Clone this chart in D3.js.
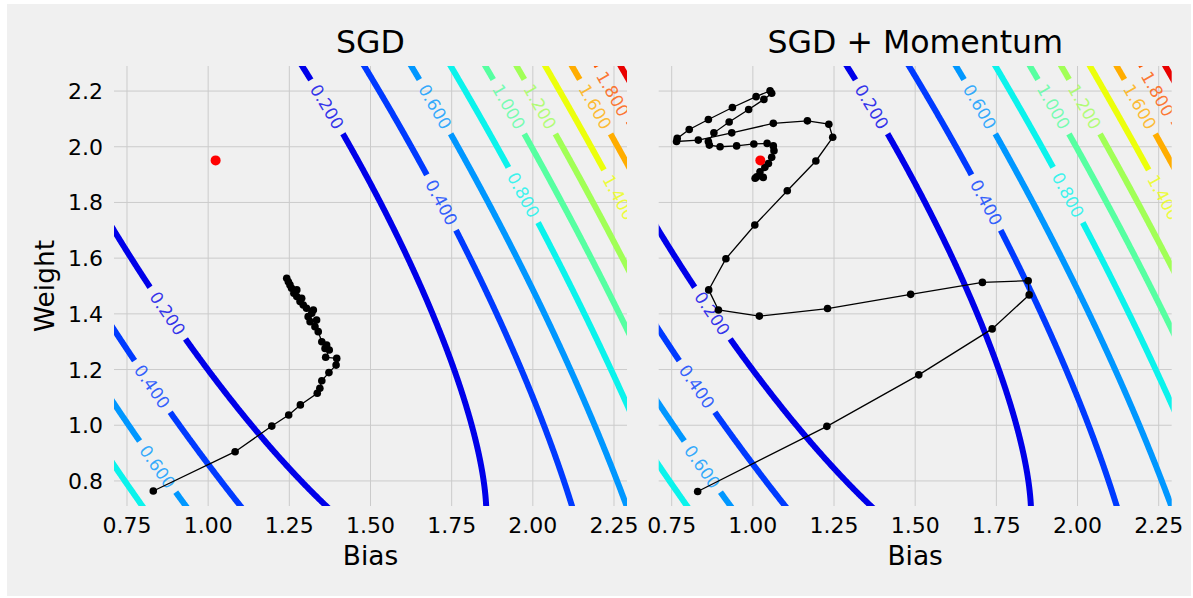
<!DOCTYPE html>
<html>
<head>
<meta charset="utf-8">
<script src="https://cdn.jsdelivr.net/npm/d3@7"></script>
<style>
  html, body { margin: 0; padding: 0; background: #fff; }
  svg { display: block; font-family: "DejaVu Sans", sans-serif; }
</style>
</head>
<body>
<svg id="chart" width="1193" height="598"></svg>
<script>
/* Loss surface of the regression (bias vs weight) with the SGD and
   SGD + Momentum training paths drawn on top. */

const biasTicks = [0.75, 1.00, 1.25, 1.50, 1.75, 2.00, 2.25];
const weightTicks = [0.8, 1.0, 1.2, 1.4, 1.6, 1.8, 2.0, 2.2];
const axisDomain = [0.71, 2.29];

const contourLevels = [0.2, 0.4, 0.6, 0.8, 1.0, 1.2, 1.4, 1.6, 1.8, 2.0];
const colorDomain = [0, 2.2];

/* MSE is quadratic in (b, w):
   lossMin + a*db^2 + ab*db*dw + c*dw^2 around the minimum. */
const lossCenter = [1.023, 1.951];
const lossCoefs = [1.0, 0.946, 0.309];
const lossMin = 0.008;

/* [level, bias, weight] where each contour label sits */
const labelSpots = [
  [0.2, 1.375, 2.144], [0.2, 0.882, 1.402],
  [0.4, 1.700, 1.800], [0.4, 0.836, 1.139],
  [0.6, 1.709, 2.144], [0.6, 0.846, 0.851],
  [0.8, 1.990, 1.827],
  [1.0, 1.935, 2.144],
  [1.2, 2.032, 2.144],
  [1.4, 2.266, 1.818],
  [1.6, 2.196, 2.144],
  [1.8, 2.263, 2.190]
];

const sgdBias = [0.831, 1.083, 1.196, 1.248, 1.284, 1.336, 1.344, 1.350, 1.372, 1.394,
  1.396, 1.362, 1.373, 1.360, 1.365, 1.350, 1.339, 1.329, 1.334, 1.314, 1.308, 1.324,
  1.319, 1.303, 1.293, 1.288, 1.283, 1.273, 1.264, 1.273, 1.257, 1.252, 1.247, 1.242];
const sgdWeight = [0.764, 0.905, 0.997, 1.037, 1.073, 1.115, 1.133, 1.160, 1.189, 1.216,
  1.240, 1.244, 1.270, 1.276, 1.288, 1.300, 1.336, 1.354, 1.378, 1.372, 1.390, 1.414,
  1.402, 1.420, 1.432, 1.456, 1.444, 1.462, 1.474, 1.486, 1.492, 1.504, 1.515, 1.528];

const momentumBias = [0.830, 1.228, 1.511, 1.737, 1.851, 1.848, 1.707, 1.486, 1.230, 1.020,
  0.894, 0.864, 0.917, 1.006, 1.106, 1.194, 1.246, 1.234, 1.168, 1.063, 0.935, 0.832,
  0.765, 0.767, 0.804, 0.863, 0.937, 1.010, 1.053, 1.058, 1.034, 0.987, 0.927, 0.880,
  0.863, 0.866, 0.899, 0.950, 1.003, 1.044, 1.063, 1.065, 1.058, 1.048, 1.037, 1.022,
  1.012, 1.032, 1.007];
const momentumWeight = [0.762, 0.996, 1.181, 1.346, 1.468, 1.519, 1.513, 1.470, 1.419, 1.392,
  1.414, 1.486, 1.598, 1.719, 1.842, 1.949, 2.034, 2.081, 2.093, 2.084, 2.050, 2.024,
  2.019, 2.030, 2.062, 2.098, 2.141, 2.180, 2.201, 2.192, 2.170, 2.134, 2.089, 2.050,
  2.019, 2.006, 2.000, 2.003, 2.010, 2.012, 2.003, 1.986, 1.962, 1.940, 1.926, 1.910,
  1.892, 1.890, 1.887];

/* ---------- LAYOUT ---------- */

const W = 1193, H = 598;
const plotTop = 66, plotBottom = 506, plotWidth = 513;
const panels = [
  { title: "SGD", left: 114, bias: sgdBias, weight: sgdWeight, showY: true },
  { title: "SGD + Momentum", left: 658.7, bias: momentumBias, weight: momentumWeight, showY: false }
];

/* ---------- COLOURS (matplotlib jet) ---------- */

const jetRed   = d3.scaleLinear().domain([0, 0.35, 0.66, 0.89, 1]).range([0, 0, 1, 1, 0.5]).clamp(true);
const jetGreen = d3.scaleLinear().domain([0, 0.125, 0.375, 0.64, 0.91, 1]).range([0, 0, 1, 1, 0, 0]).clamp(true);
const jetBlue  = d3.scaleLinear().domain([0, 0.11, 0.34, 0.65, 1]).range([0.5, 1, 1, 0, 0]).clamp(true);
const norm = d3.scaleLinear().domain(colorDomain).range([0, 1]);
function jet(v) {
  const t = norm(v);
  return d3.rgb(255 * jetRed(t), 255 * jetGreen(t), 255 * jetBlue(t)).formatHex();
}

/* ---------- LOSS GRID ---------- */

function loss(b, w) {
  const db = b - lossCenter[0], dw = w - lossCenter[1];
  return lossMin + lossCoefs[0] * db * db + lossCoefs[1] * db * dw + lossCoefs[2] * dw * dw;
}

const gridLo = 0.55, gridStep = 0.005, gridN = 381;
const values = new Float64Array(gridN * gridN);
for (let j = 0; j < gridN; j++) {
  for (let i = 0; i < gridN; i++) {
    values[j * gridN + i] = loss(gridLo + i * gridStep, gridLo + j * gridStep);
  }
}
const contours = d3.contours().size([gridN, gridN]).thresholds(contourLevels)(values);

/* Put a label spot exactly on its contour (same weight, nearest branch). */
function snapToLevel(level, b, w) {
  const dw = w - lossCenter[1];
  const qa = lossCoefs[0], qb = lossCoefs[1] * dw, qc = lossCoefs[2] * dw * dw - (level - lossMin);
  const disc = qb * qb - 4 * qa * qc;
  if (disc < 0) return null;
  const r1 = (-qb - Math.sqrt(disc)) / (2 * qa) + lossCenter[0];
  const r2 = (-qb + Math.sqrt(disc)) / (2 * qa) + lossCenter[0];
  return [Math.abs(r1 - b) < Math.abs(r2 - b) ? r1 : r2, w];
}

/* ---------- DRAW ---------- */

const svg = d3.select("#chart");
svg.append("rect").attr("x", 7).attr("y", 4).attr("width", 1184).attr("height", 592).attr("fill", "#f0f0f0");
const defs = svg.append("defs");
const fmtLevel = d3.format(".3f");

panels.forEach(function (p, pi) {
  const x = d3.scaleLinear().domain(axisDomain).range([p.left, p.left + plotWidth]);
  const y = d3.scaleLinear().domain(axisDomain).range([plotBottom, plotTop]);
  const g = svg.append("g");

  const clipId = "clip-" + pi;
  defs.append("clipPath").attr("id", clipId)
    .append("rect")
    .attr("x", x.range()[0]).attr("y", plotTop)
    .attr("width", plotWidth).attr("height", plotBottom - plotTop);

  /* grid */
  const grid = g.append("g").attr("stroke", "#cbcbcb").attr("stroke-width", 1);
  grid.selectAll("line.v").data(biasTicks).enter().append("line")
    .attr("x1", function (d) { return x(d); }).attr("x2", function (d) { return x(d); })
    .attr("y1", plotTop).attr("y2", plotBottom);
  grid.selectAll("line.h").data(weightTicks).enter().append("line")
    .attr("y1", function (d) { return y(d); }).attr("y2", function (d) { return y(d); })
    .attr("x1", x.range()[0]).attr("x2", x.range()[1]);

  const contourLayer = g.append("g").attr("clip-path", "url(#" + clipId + ")");
  const labelLayer = g.append("g").attr("clip-path", "url(#" + clipId + ")");

  /* contour labels, measured so the lines can be broken around them */
  const kx = x(1) - x(0), ky = y(1) - y(0);
  const placed = [];
  labelSpots.forEach(function (s) {
    const pt = snapToLevel(s[0], s[1], s[2]);
    if (!pt) return;
    const db = pt[0] - lossCenter[0], dw = pt[1] - lossCenter[1];
    const gb = 2 * lossCoefs[0] * db + lossCoefs[1] * dw;
    const gw = lossCoefs[1] * db + 2 * lossCoefs[2] * dw;
    let ang = Math.atan2(gb / kx, -(gw / ky)) * 180 / Math.PI;
    if (ang > 90) ang -= 180;
    if (ang < -90) ang += 180;
    const px = x(pt[0]), py = y(pt[1]);
    const t = labelLayer.append("text")
      .attr("transform", "translate(" + px + "," + py + ") rotate(" + ang + ")")
      .attr("text-anchor", "middle")
      .attr("dy", "0.36em")
      .attr("font-size", 17)
      .attr("fill", jet(s[0]))
      .attr("fill-opacity", 0.8)
      .text(fmtLevel(s[0]));
    placed.push({ level: s[0], px: px, py: py, ang: ang, len: t.node().getComputedTextLength() });
  });

  const geo = d3.geoPath(d3.geoTransform({
    point: function (gx, gy) {
      this.stream.point(x(gridLo + (gx - 0.5) * gridStep), y(gridLo + (gy - 0.5) * gridStep));
    }
  }));

  contours.forEach(function (c, ci) {
    const maskId = "mask-" + pi + "-" + ci;
    const mask = defs.append("mask").attr("id", maskId)
      .attr("maskUnits", "userSpaceOnUse")
      .attr("x", 0).attr("y", 0).attr("width", W).attr("height", H);
    mask.append("rect").attr("width", W).attr("height", H).attr("fill", "#fff");
    placed.filter(function (l) { return l.level === c.value; }).forEach(function (l) {
      mask.append("rect")
        .attr("x", -(l.len / 2 + 7)).attr("y", -9)
        .attr("width", l.len + 14).attr("height", 18)
        .attr("transform", "translate(" + l.px + "," + l.py + ") rotate(" + l.ang + ")")
        .attr("fill", "#000");
    });
    contourLayer.append("path")
      .attr("d", geo(c))
      .attr("fill", "none")
      .attr("stroke", jet(c.value))
      .attr("stroke-width", 6)
      .attr("mask", "url(#" + maskId + ")");
  });

  /* training path */
  const idx = d3.range(p.bias.length);
  const line = d3.line()
    .x(function (i) { return x(p.bias[i]); })
    .y(function (i) { return y(p.weight[i]); });
  g.append("path").attr("d", line(idx))
    .attr("fill", "none").attr("stroke", "#000").attr("stroke-width", 1.3);
  g.selectAll("circle.step").data(idx).enter().append("circle")
    .attr("cx", function (i) { return x(p.bias[i]); })
    .attr("cy", function (i) { return y(p.weight[i]); })
    .attr("r", 3.8).attr("fill", "#000");

  /* minimum */
  g.append("circle")
    .attr("cx", x(lossCenter[0])).attr("cy", y(lossCenter[1]))
    .attr("r", 5).attr("fill", "#ff0000");

  /* ticks and labels */
  g.selectAll("text.xt").data(biasTicks).enter().append("text")
    .attr("x", function (d) { return x(d); }).attr("y", 533)
    .attr("text-anchor", "middle").attr("font-size", 22).attr("fill", "#000")
    .text(d3.format(".2f"));
  if (p.showY) {
    g.selectAll("text.yt").data(weightTicks).enter().append("text")
      .attr("x", 103).attr("y", function (d) { return y(d) + 8; })
      .attr("text-anchor", "end").attr("font-size", 22).attr("fill", "#000")
      .text(d3.format(".1f"));
    g.append("text")
      .attr("transform", "translate(54," + ((plotTop + plotBottom) / 2) + ") rotate(-90)")
      .attr("text-anchor", "middle").attr("font-size", 26.4).attr("fill", "#000")
      .text("Weight");
  }
  const cx = p.left + plotWidth / 2;
  g.append("text").attr("x", cx).attr("y", 565)
    .attr("text-anchor", "middle").attr("font-size", 26.4).attr("fill", "#000")
    .text("Bias");
  g.append("text").attr("x", cx).attr("y", 53)
    .attr("text-anchor", "middle").attr("font-size", 31.6).attr("fill", "#000")
    .text(p.title);
});
</script>
</body>
</html>
